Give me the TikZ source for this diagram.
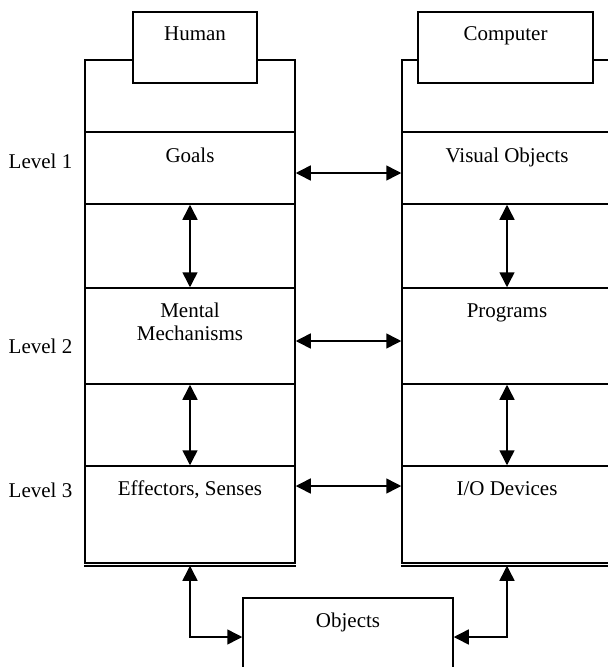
\documentclass[tikz,border=0pt]{standalone}
\usepackage{fontspec}
\setmainfont{Liberation Serif}
\usetikzlibrary{arrows.meta}
\begin{document}
\begin{tikzpicture}[x=1pt,y=-1pt,
  line width=1.5pt,
  cell/.style={draw, rectangle, inner sep=0pt, minimum width=210pt},
  tagbox/.style={draw, fill=white, rectangle, inner sep=0pt},
  txt/.style={inner sep=0pt, font=\fontsize{21}{23}\selectfont, align=center},
  dbl/.style={{Triangle[length=15pt,width=15pt]}-{Triangle[length=15pt,width=15pt]}, line width=1.5pt}
]
\useasboundingbox (0,0) rectangle (608,667);
\clip (0,0) rectangle (608,667);
\fill[white] (0,0) rectangle (608,667);

% human column: stacked cells
\node[cell, minimum height=72pt] (htop)  at (190,96)    {};
\node[cell, minimum height=72pt] (goals) at (190,168)   {};
\node[cell, minimum height=84pt] (hgapa) at (190,246)   {};
\node[cell, minimum height=96pt] (mental) at (190,336)  {};
\node[cell, minimum height=82pt] (hgapb) at (190,425)   {};
\node[cell, minimum height=97pt] (effect) at (190,514.5) {};
\draw ([yshift=-2.2pt]effect.south west) -- ([yshift=-2.2pt]effect.south east);
\node[tagbox, minimum width=124pt, minimum height=71pt] (human) at (195,47.5) {};
\node[txt, anchor=base] at ([yshift=-29pt]human.north) {Human};

% computer column: stacked cells
\node[cell, minimum height=72pt] (ctop)   at (507,96)    {};
\node[cell, minimum height=72pt] (visual) at (507,168)   {};
\node[cell, minimum height=84pt] (cgapa)  at (507,246)   {};
\node[cell, minimum height=96pt] (progs)  at (507,336)   {};
\node[cell, minimum height=82pt] (cgapb)  at (507,425)   {};
\node[cell, minimum height=97pt] (iodev)  at (507,514.5) {};
\draw ([yshift=-2.2pt]iodev.south west) -- ([yshift=-2.2pt]iodev.south east);
\node[tagbox, minimum width=175pt, minimum height=71pt] (computer) at (505.5,47.5) {};
\node[txt, anchor=base] at ([yshift=-29pt]computer.north) {Computer};

% cell texts (base of a two-line node is its last line)
\node[txt, anchor=base] (tgoals) at ([yshift=-31pt]goals.north) {Goals};
\node[txt, anchor=base] (tmental) at ([yshift=-53pt]mental.north) {Mental\\Mechanisms};
\node[txt, anchor=base] (teffect) at ([yshift=-30pt]effect.north) {Effectors, Senses};
\node[txt, anchor=base] (tvisual) at ([yshift=-31pt]visual.north) {Visual Objects};
\node[txt, anchor=base] (tprogs) at ([yshift=-30pt]progs.north) {Programs};
\node[txt, anchor=base] (tiodev) at ([yshift=-30pt]iodev.north) {I/O Devices};

% level labels
\node[txt, anchor=base west] (lev1) at (8,168) {Level 1};
\node[txt, anchor=base west] (lev2) at (8,353) {Level 2};
\node[txt, anchor=base west] (lev3) at (8,497) {Level 3};

% objects box
\node[tagbox, minimum width=210pt, minimum height=78pt] (objects) at (348,637) {};
\node[txt, anchor=base] at ([yshift=-30pt]objects.north) {Objects};

% vertical links within each column
\draw[dbl] (goals.south) -- (mental.north);
\draw[dbl] (mental.south) -- (effect.north);
\draw[dbl] (visual.south) -- (progs.north);
\draw[dbl] (progs.south) -- (iodev.north);

% horizontal links between columns
\draw[dbl] ([yshift=-5pt]goals.east) -- ([yshift=-5pt]visual.west);
\draw[dbl] ([yshift=-5pt]mental.east) -- ([yshift=-5pt]progs.west);
\draw[dbl] ([yshift=28.5pt]effect.east) -- ([yshift=28.5pt]iodev.west);

% links to the objects box
\draw[dbl] ([yshift=-2pt]effect.south) |- (objects.west);
\draw[dbl] ([yshift=-2pt]iodev.south) |- (objects.east);
\end{tikzpicture}
\end{document}
